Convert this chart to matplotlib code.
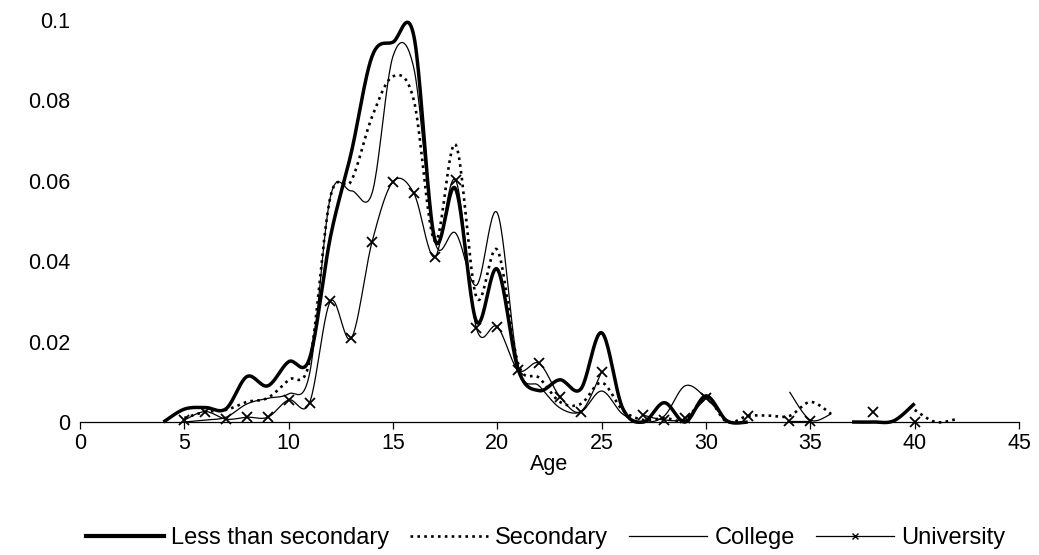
import numpy as np
import matplotlib
matplotlib.use("Agg")
import matplotlib.pyplot as plt
from matplotlib.lines import Line2D

plt.rcParams['font.family'] = ['Liberation Sans', 'DejaVu Sans']

nan = np.nan
ages = list(range(4, 43))

less_than_secondary = [
    0.0, 0.0032, 0.0036, 0.0033, 0.0113, 0.0090, 0.0150, 0.0158, 0.046, 0.067,
    0.091, 0.0945, 0.096, 0.0455, 0.058, 0.025, 0.038, 0.013, 0.0078, 0.0105,
    0.0082, 0.0222, 0.0035, 0.0, 0.0048, 0.0, 0.0065, 0.0003, 0.0, nan,
    nan, nan, nan, 0.0, 0.0, 0.0003, 0.0046, nan, nan]

secondary = [
    nan, 0.001, 0.0025, 0.003, 0.005, 0.006, 0.0105, 0.015, 0.056, 0.060,
    0.076, 0.086, 0.080, 0.045, 0.069, 0.031, 0.0428, 0.0145, 0.011, 0.005,
    0.0045, 0.0098, 0.003, 0.0005, 0.001, 0.0005, 0.006, 0.0, 0.0015, 0.0016,
    0.0015, 0.005, 0.002, nan, nan, nan, 0.003, 0.0, 0.0007]

college = [
    nan, 0.0, 0.0005, 0.0012, 0.0045, 0.0059, 0.007, 0.012, 0.056, 0.0575,
    0.057, 0.091, 0.088, 0.045, 0.047, 0.034, 0.052, 0.014, 0.009, 0.0035,
    0.0025, 0.0077, 0.002, 0.0, 0.0015, 0.009, 0.006, 0.0, nan, nan,
    0.0075, 0.0005, 0.002, nan, nan, nan, nan, nan, nan]

university = [
    nan, 0.0005, 0.0026, 0.0007, 0.0012, 0.0012, 0.0055, 0.0048, 0.030, 0.0208,
    0.0449, 0.0598, 0.0569, 0.041, 0.0602, 0.0233, 0.0237, 0.0129, 0.0146, 0.0063,
    0.0026, 0.0125, nan, 0.0017, 0.0005, 0.0009, 0.006, nan, 0.0015, nan,
    0.0003, 0.0003, nan, nan, 0.0025, nan, 0.0, nan, nan]

series_names = ["Less than secondary", "Secondary", "College", "University"]
x_ticks = list(range(0, 50, 5))
y_ticks = [0, 0.02, 0.04, 0.06, 0.08, 0.1]
y_tick_labels = ["0", "0.02", "0.04", "0.06", "0.08", "0.1"]


def smooth_segments(x, y, n=24):
    """Excel-like smoothing (Catmull-Rom Bezier) for each run of valid points."""
    x = np.asarray(x, float)
    y = np.asarray(y, float)
    valid = ~np.isnan(y)
    segs = []
    i = 0
    N = len(x)
    while i < N:
        if not valid[i]:
            i += 1
            continue
        j = i
        while j + 1 < N and valid[j + 1]:
            j += 1
        px = x[i:j + 1]
        py = y[i:j + 1]
        if len(px) == 1:
            segs.append((px, py))
        else:
            P = np.column_stack([px, py])
            out = [P[0]]
            m = len(P)
            for k in range(m - 1):
                p0 = P[k - 1] if k > 0 else P[k]
                p1 = P[k]
                p2 = P[k + 1]
                p3 = P[k + 2] if k + 2 < m else P[k + 1]
                c1 = p1 + (p2 - p0) / 6.0
                c2 = p2 - (p3 - p1) / 6.0
                t = np.linspace(0, 1, n)[1:, None]
                b = ((1 - t) ** 3) * p1 + 3 * ((1 - t) ** 2) * t * c1 + 3 * (1 - t) * t ** 2 * c2 + t ** 3 * p2
                out.extend(b)
            out = np.array(out)
            segs.append((out[:, 0], out[:, 1]))
        i = j + 1
    return segs


fig = plt.figure(figsize=(10.39, 5.55), dpi=100)
ax = fig.add_axes([80 / 1039, 1 - 422 / 555, (1019 - 80) / 1039, (422 - 20) / 555])

styles = [
    dict(color="black", lw=2.5, ls="-"),
    dict(color="black", lw=1.9, ls=(0, (1, 1.6))),
    dict(color="black", lw=0.9, ls="-"),
    dict(color="black", lw=0.9, ls="-"),
]
data = [less_than_secondary, secondary, college, university]

for vals, st in zip(data, styles):
    for sx, sy in smooth_segments(ages, vals):
        ax.plot(sx, sy, solid_capstyle="butt", dash_capstyle="butt", clip_on=False, **st)

# university markers
ua = np.array(ages, float)
uv = np.array(university, float)
m = ~np.isnan(uv)
ax.plot(ua[m], uv[m], ls="none", marker="x", ms=7, mew=1.3, color="black", clip_on=False)

ax.set_xlim(0, 45)
ax.set_ylim(0, 0.1)
ax.set_xticks(x_ticks)
ax.set_xticklabels([str(v) for v in x_ticks])
ax.set_yticks(y_ticks)
ax.set_yticklabels(y_tick_labels)
for s in ["top", "right", "left"]:
    ax.spines[s].set_visible(False)
ax.spines["bottom"].set_linewidth(0.9)
ax.tick_params(axis="x", direction="out", length=5, width=0.9, labelsize=15.5, pad=3)
ax.tick_params(axis="y", length=0, labelsize=15.5, pad=7)
ax.set_xlabel("Age", fontsize=15.5, labelpad=0)
ax.patch.set_visible(False)

handles = [
    Line2D([], [], color="black", lw=3.0),
    Line2D([], [], color="black", lw=1.9, ls=(0, (1, 1.6))),
    Line2D([], [], color="black", lw=0.9),
    Line2D([], [], color="black", lw=0.9, marker="x", ms=5, mew=1.0),
]
fig.legend(handles, series_names, loc="center", bbox_to_anchor=(0.525, 1 - 538 / 555),
           ncol=4, frameon=False, fontsize=17, handlelength=3.3,
           handletextpad=0.3, columnspacing=0.9)

fig.savefig("out.png", dpi=100)
